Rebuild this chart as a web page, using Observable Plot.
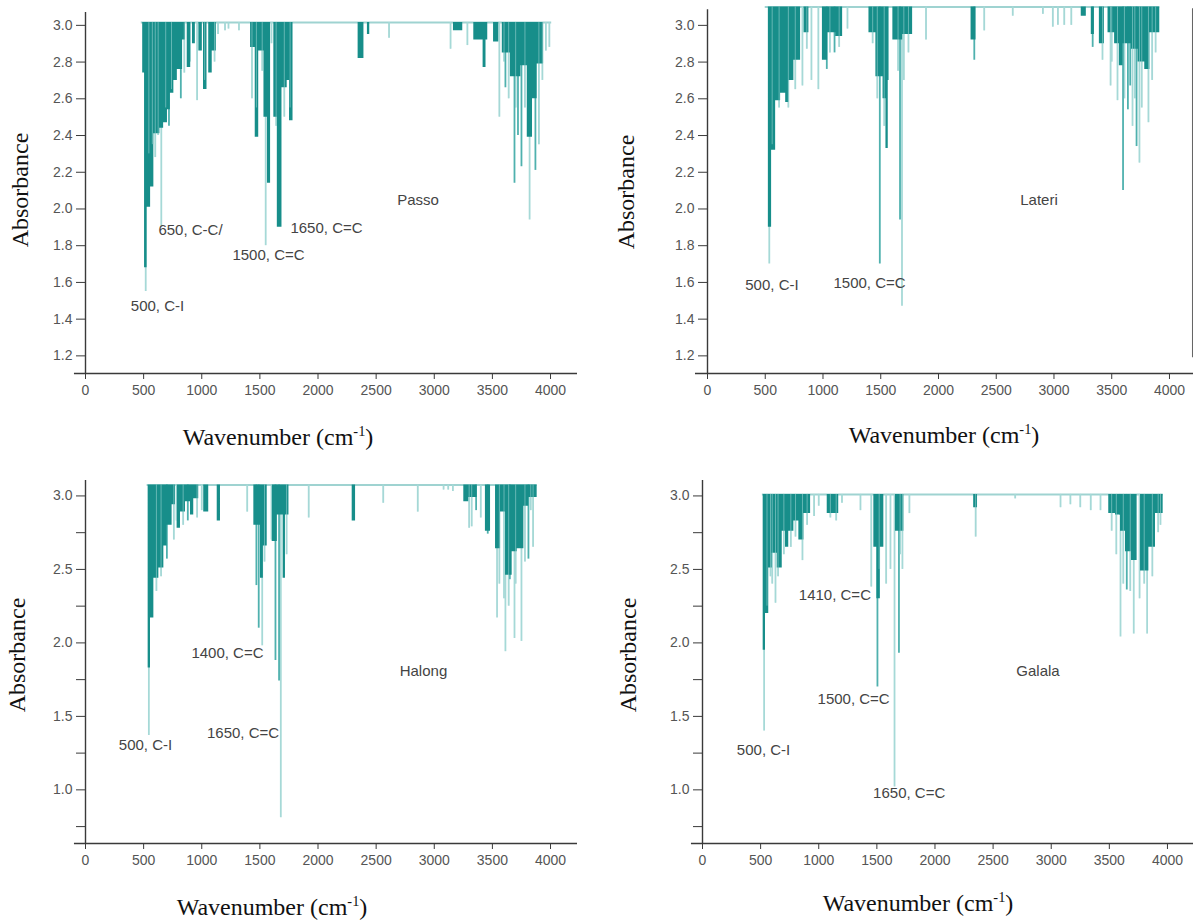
<!DOCTYPE html>
<html><head><meta charset="utf-8">
<script src="https://cdn.jsdelivr.net/npm/d3@7"></script>
<script src="https://cdn.jsdelivr.net/npm/@observablehq/plot@0.6"></script>
<style>
body{margin:0;background:#fff;}
#root{position:relative;width:1193px;height:921px;overflow:hidden;background:#fff;}
.panel{position:absolute;}
.ytitle{position:absolute;font-family:"Liberation Serif","Times New Roman",serif;font-size:24px;color:#111;white-space:nowrap;transform:translate(-50%,-50%) rotate(-90deg);}
.xtitle{position:absolute;font-family:"Liberation Serif","Times New Roman",serif;font-size:24px;color:#111;white-space:nowrap;transform:translate(-50%,-50%);}
.xtitle sup{font-size:0.6em;}
</style></head>
<body><div id="root"></div>
<script>
// ---------- shared tick labels ----------
const xTicks = [0, 500, 1000, 1500, 2000, 2500, 3000, 3500, 4000];
const yTicksTop = [1.2, 1.4, 1.6, 1.8, 2.0, 2.2, 2.4, 2.6, 2.8, 3.0];
const yTicksBottom = [1.0, 1.5, 2.0, 2.5, 3.0];
const yMinorBottom = [0.75, 1.25, 1.75, 2.25, 2.75];
const yTitle = "Absorbance";

// ---------- Passo ----------
const passoTop = 3.015;
const passoBandWn  = [480, 492, 508, 530, 560, 588, 640, 672, 705, 730, 760, 790, 835, 860, 875, 905, 920, 945, 975, 1005, 1015, 1045, 1060, 1090, 1125, 1420, 1460, 1490, 1535, 1565, 1592, 1620, 1650, 1690, 1735, 1755, 1785, 2345, 2395, 2425, 2445, 3165, 3245, 3340, 3420, 3445, 3460, 3510, 3555, 3585, 3655, 3745, 3800, 3845, 3885, 3940, 4010];
const passoBandAbs = [3.015, 2.74, 1.68, 2.01, 2.12, 2.41, 2.44, 2.47, 2.54, 2.63, 2.70, 2.76, 2.92, 3.015, 2.77, 3.015, 2.90, 3.015, 2.86, 3.015, 2.65, 3.015, 2.74, 2.86, 3.015, 2.88, 2.39, 2.86, 2.50, 2.14, 3.015, 2.50, 1.90, 2.66, 2.70, 2.48, 3.015, 2.82, 3.015, 2.95, 3.015, 2.97, 3.015, 2.92, 2.77, 2.92, 3.015, 2.91, 3.015, 2.85, 2.72, 2.78, 2.39, 2.60, 2.79, 3.015, 3.015];
const passoSpikeWn   = [518, 600, 652, 850, 960, 1200, 1230, 1320, 1432, 1550, 1600, 1710, 2611, 3140, 3285, 3560, 3820, 3960, 3990, 545, 575, 625, 690, 740, 1025, 1110, 1140, 1470, 1520, 1640, 1760, 3600, 3640, 3700, 3780, 3900, 3930, 718, 820, 895, 3612, 3690, 3720, 3750, 3870];
const passoSpikeAbs  = [1.55, 2.28, 1.90, 2.74, 2.59, 2.97, 2.98, 2.97, 2.60, 1.80, 2.90, 2.50, 2.93, 2.87, 2.89, 2.50, 1.94, 2.86, 2.88, 2.30, 2.35, 2.40, 2.55, 2.65, 2.70, 2.80, 2.95, 2.55, 2.75, 2.45, 2.55, 2.80, 2.60, 2.55, 2.55, 2.35, 2.70, 2.45, 2.60, 2.80, 2.66, 2.14, 2.40, 2.23, 2.21];
const passoSpikeTone = ["light","light","light","light","light","light","light","light","light","light","light","light","light","light","light","light","light","light","light","light","light","light","light","light","light","light","light","light","light","light","light","light","light","light","light","light","light","mid","mid","mid","mid","mid","mid","mid","mid"];
const passoNoteText = ["500, C-I", "650, C-C/", "1500, C=C", "1650, C=C", "Passo"];
const passoNoteWn   = [619, 903, 1574, 2073, 2860];
const passoNoteAbs  = [1.469, 1.883, 1.746, 1.894, 2.046];

// ---------- Lateri ----------
const lateriTop = 3.10;
const lateriBandWn  = [500, 527, 555, 590, 633, 677, 705, 748, 806, 836, 878, 995, 1040, 1110, 1170, 1398, 1458, 1520, 1545, 1565, 1572, 1605, 1690, 1776, 2282, 2325, 3236, 3280, 3323, 3350, 3393, 3436, 3468, 3525, 3566, 3598, 3670, 3728, 3786, 3830, 3916];
const lateriBandAbs = [3.10, 1.90, 2.32, 2.59, 2.63, 2.58, 2.70, 2.81, 3.10, 2.96, 3.10, 2.81, 2.96, 2.94, 3.10, 2.96, 2.72, 2.60, 2.33, 2.70, 3.10, 2.92, 2.95, 3.10, 2.92, 3.10, 3.05, 3.10, 2.95, 3.10, 2.90, 3.10, 2.96, 2.90, 2.78, 2.90, 2.87, 2.80, 2.76, 2.96, 3.10];
const lateriSpikeWn   = [535, 822, 860, 900, 960, 1212, 1430, 1650, 1684, 1892, 2396, 2643, 2904, 2990, 3034, 3089, 3150, 3420, 3490, 3550, 3740, 3818, 560, 620, 700, 760, 1060, 1140, 1470, 1530, 1700, 1740, 3500, 3610, 3680, 3700, 3760, 3850, 3880, 1033, 1100, 1492, 1667, 2310, 3335, 3598, 3640, 3660, 3715];
const lateriSpikeAbs  = [1.70, 2.67, 2.87, 2.70, 2.65, 2.98, 2.90, 2.75, 1.47, 2.92, 2.97, 3.05, 3.06, 2.99, 3.00, 3.00, 3.00, 2.81, 2.67, 2.59, 2.25, 2.47, 2.35, 2.55, 2.55, 2.65, 2.85, 2.88, 2.60, 2.45, 2.70, 2.85, 2.80, 2.60, 2.45, 2.60, 2.55, 2.70, 2.85, 2.76, 2.85, 1.70, 1.94, 2.81, 2.88, 2.10, 2.54, 2.67, 2.34];
const lateriSpikeTone = ["light","light","light","light","light","light","light","light","light","light","light","light","light","light","light","light","light","light","light","light","light","light","light","light","light","light","light","light","light","light","light","light","light","light","light","light","light","light","light","mid","mid","mid","mid","mid","mid","mid","mid","mid","mid"];
const lateriNoteText = ["500, C-I", "1500, C=C", "Lateri"];
const lateriNoteWn   = [558, 1403, 2870];
const lateriNoteAbs  = [1.583, 1.596, 2.046];

// ---------- Halong ----------
const halongTop = 3.075;
const halongBandWn  = [530, 539, 559, 588, 631, 674, 702, 745, 774, 788, 817, 860, 903, 931, 974, 1017, 1060, 1133, 1161, 1448, 1505, 1530, 1563, 1606, 1650, 1700, 1720, 1750, 2294, 2323, 3254, 3297, 3369, 3440, 3484, 3527, 3570, 3613, 3670, 3713, 3771, 3813, 3885];
const halongBandAbs = [3.075, 1.83, 2.17, 2.44, 2.51, 2.66, 2.80, 2.94, 3.075, 2.78, 2.89, 2.96, 2.87, 2.98, 3.075, 2.89, 3.075, 2.83, 3.075, 2.80, 2.44, 2.66, 3.075, 2.69, 2.87, 2.44, 2.87, 3.075, 2.83, 3.075, 2.96, 2.99, 3.075, 2.76, 3.075, 2.64, 2.89, 2.46, 2.62, 2.64, 2.93, 2.99, 3.075];
const halongSpikeWn   = [545, 783, 1391, 1520, 1680, 1920, 2561, 2858, 3080, 3120, 3160, 3300, 3322, 3540, 3612, 3690, 3750, 3830, 570, 610, 650, 760, 840, 960, 1000, 1540, 1600, 1730, 3560, 3600, 3640, 3700, 3780, 3850, 3400, 700, 880, 1470, 1490, 1634, 1665, 3360, 3460, 3650, 3810];
const halongSpikeAbs  = [1.37, 2.83, 2.89, 1.98, 0.81, 2.85, 2.95, 2.89, 3.04, 3.04, 3.03, 2.78, 2.79, 2.17, 1.94, 2.03, 2.01, 2.90, 2.20, 2.35, 2.45, 2.70, 2.80, 2.85, 2.90, 2.55, 2.70, 2.60, 2.40, 2.30, 2.25, 2.40, 2.55, 2.65, 2.85, 2.57, 2.83, 2.39, 2.10, 1.88, 1.74, 2.90, 2.74, 2.43, 2.57];
const halongSpikeTone = ["light","light","light","light","light","light","light","light","light","light","light","light","light","light","light","light","light","light","light","light","light","light","light","light","light","light","light","light","light","light","light","light","light","light","light","mid","mid","mid","mid","mid","mid","mid","mid","mid","mid"];
const halongNoteText = ["500, C-I", "1400, C=C", "1650, C=C", "Halong"];
const halongNoteWn   = [516, 1221, 1355, 2907];
const halongNoteAbs  = [1.302, 1.930, 1.386, 1.808];

// ---------- Galala ----------
const galalaTop = 3.01;
const galalaBandWn  = [515, 522, 542, 570, 600, 643, 686, 714, 742, 786, 829, 872, 930, 1073, 1172, 1474, 1500, 1530, 1560, 1660, 1732, 2333, 2366, 3495, 3553, 3596, 3639, 3690, 3739, 3768, 3840, 3897, 3963];
const galalaBandAbs = [3.01, 1.95, 2.20, 2.51, 2.61, 2.51, 2.76, 2.65, 2.76, 2.83, 2.70, 2.88, 3.01, 2.88, 3.01, 2.65, 2.30, 2.65, 3.01, 2.76, 3.01, 2.92, 3.01, 2.88, 2.87, 2.76, 2.62, 2.56, 3.01, 2.49, 2.65, 2.88, 3.01];
const galalaSpikeWn   = [530, 600, 628, 860, 960, 1000, 1150, 1200, 1359, 1452, 1580, 1617, 1652, 1780, 2350, 2690, 3080, 3165, 3250, 3340, 3424, 3520, 3596, 3710, 3825, 3920, 555, 585, 650, 700, 760, 800, 900, 1100, 1520, 1700, 1720, 3560, 3620, 3680, 3760, 3800, 3870, 3940, 1505, 1690, 3590, 3650];
const galalaSpikeAbs  = [1.40, 2.40, 2.27, 2.56, 2.86, 2.93, 2.83, 2.95, 2.90, 2.38, 2.40, 2.50, 1.02, 2.88, 2.72, 2.98, 2.92, 2.94, 2.92, 2.90, 2.90, 2.76, 2.04, 2.06, 2.06, 2.75, 2.25, 2.45, 2.45, 2.60, 2.65, 2.72, 2.80, 2.85, 2.50, 2.60, 2.50, 2.60, 2.40, 2.35, 2.30, 2.40, 2.45, 2.80, 1.70, 1.93, 2.87, 2.36];
const galalaSpikeTone = ["light","light","light","light","light","light","light","light","light","light","light","light","light","light","light","light","light","light","light","light","light","light","light","light","light","light","light","light","light","light","light","light","light","light","light","light","light","light","light","light","light","light","light","light","mid","mid","mid","mid"];
const galalaNoteText = ["500, C-I", "1410, C=C", "1500, C=C", "1650, C=C", "Galala"];
const galalaNoteWn   = [525, 1139, 1300, 1778, 2886];
const galalaNoteAbs  = [1.268, 2.323, 1.620, 0.974, 1.808];

// ---------- styling / layout (not data) ----------
const palette = {dark: "#178e8a", mid: "#4fb1ae", light: "#a6d9d7", base: "#9fd3d1", axis: "#3a3a3a", tick: "#555", note: "#444"};
const sans = "'Liberation Sans', Arial, Helvetica, sans-serif";

const layouts = [
  {left: 0,   top: 0,   w: 600, h: 460, ml: 85,  mr: 23, mt: 12,  mb: 87, xMax: 4232, xStart: -95,  yDomain: [1.104, 3.07],  axisTop: 3.07,  yTicks: yTicksTop, yMinor: null, frameRule: null,
   yt: [20, 190], xt: [278, 437]},
  {left: 600, top: 0,   w: 593, h: 460, ml: 107, mr: 0,  mt: 6.5, mb: 87, xMax: 4208, xStart: -104, yDomain: [1.104, 3.10],  axisTop: 3.085, yTicks: yTicksTop, yMinor: null, frameRule: {x: 4200, y1: 1.19, y2: 3.09},
   yt: [626, 192], xt: [944, 435]},
  {left: 0,   top: 460, w: 600, h: 461, ml: 85,  mr: 23, mt: 20,  mb: 78, xMax: 4232, xStart: -95,  yDomain: [0.635, 3.105], axisTop: 3.105, yTicks: yTicksBottom, yMinor: yMinorBottom, frameRule: null,
   yt: [17, 655], xt: [272, 907]},
  {left: 600, top: 460, w: 593, h: 461, ml: 102, mr: 0,  mt: 20,  mb: 78, xMax: 4224, xStart: -95,  yDomain: [0.635, 3.105], axisTop: 3.105, yTicks: yTicksBottom, yMinor: yMinorBottom, frameRule: null,
   yt: [628, 655], xt: [918, 903]}
];

const series = [
  {top: passoTop,  bandWn: passoBandWn,  bandAbs: passoBandAbs,  spikeWn: passoSpikeWn,  spikeAbs: passoSpikeAbs,  spikeTone: passoSpikeTone,  noteText: passoNoteText,  noteWn: passoNoteWn,  noteAbs: passoNoteAbs},
  {top: lateriTop, bandWn: lateriBandWn, bandAbs: lateriBandAbs, spikeWn: lateriSpikeWn, spikeAbs: lateriSpikeAbs, spikeTone: lateriSpikeTone, noteText: lateriNoteText, noteWn: lateriNoteWn, noteAbs: lateriNoteAbs},
  {top: halongTop, bandWn: halongBandWn, bandAbs: halongBandAbs, spikeWn: halongSpikeWn, spikeAbs: halongSpikeAbs, spikeTone: halongSpikeTone, noteText: halongNoteText, noteWn: halongNoteWn, noteAbs: halongNoteAbs},
  {top: galalaTop, bandWn: galalaBandWn, bandAbs: galalaBandAbs, spikeWn: galalaSpikeWn, spikeAbs: galalaSpikeAbs, spikeTone: galalaSpikeTone, noteText: galalaNoteText, noteWn: galalaNoteWn, noteAbs: galalaNoteAbs}
];

const root = document.getElementById("root");

series.forEach((s, k) => {
  const L = layouts[k];
  const band = s.bandWn.map((w, i) => ({wn: w, abs: s.bandAbs[i]}));
  const spikes = s.spikeWn.map((w, i) => ({wn: w, abs: s.spikeAbs[i], tone: s.spikeTone[i]}));
  const notes = s.noteText.map((t, i) => ({text: t, wn: s.noteWn[i], abs: s.noteAbs[i]}));
  const wnStart = d3.min(s.bandWn), wnEnd = d3.max(s.bandWn);
  const y0 = L.yDomain[0];

  const marks = [
    Plot.ruleY([s.top], {x1: wnStart, x2: wnEnd, stroke: palette.base, strokeWidth: 2}),
    Plot.ruleX(spikes.filter(d => d.tone === "light"), {x: "wn", y1: s.top, y2: "abs", stroke: palette.light, strokeWidth: 1.8}),
    Plot.ruleX(spikes.filter(d => d.tone === "mid"), {x: "wn", y1: s.top, y2: "abs", stroke: palette.mid, strokeWidth: 1.8}),
    Plot.areaY(band, {x: "wn", y1: s.top, y2: "abs", curve: "step-after", fill: palette.dark}),
    Plot.ruleX(spikes.filter(d => d.tone === "light" && d.abs > 2.2), {x: "wn", y1: s.top, y2: "abs", stroke: palette.light, strokeWidth: 1, strokeOpacity: 0.55}),
    Plot.ruleX([0], {y1: y0, y2: L.axisTop, stroke: palette.axis, strokeWidth: 1.4}),
    Plot.ruleY([y0], {x1: L.xStart, x2: L.xMax, stroke: palette.axis, strokeWidth: 1.4}),
    Plot.axisX({ticks: xTicks, tickFormat: d => String(d), tickSize: 6, tickPadding: 6, fontSize: 14, stroke: palette.axis, fill: palette.tick, label: null}),
    Plot.axisY({ticks: L.yTicks, tickFormat: d3.format(".1f"), tickSize: 9, tickPadding: 4, fontSize: 14, stroke: palette.axis, fill: palette.tick, label: null}),
    Plot.text(notes, {x: "wn", y: "abs", text: "text", fontSize: 15, fill: palette.note, fontFamily: sans})
  ];
  if (L.yMinor) marks.push(Plot.axisY({ticks: L.yMinor, tickFormat: () => "", tickSize: 9, stroke: palette.axis, label: null}));
  if (L.frameRule) marks.push(Plot.ruleX([L.frameRule.x], {y1: L.frameRule.y1, y2: L.frameRule.y2, stroke: "#666", strokeWidth: 1.2}));

  const svg = Plot.plot({
    width: L.w, height: L.h,
    marginLeft: L.ml, marginRight: L.mr, marginTop: L.mt, marginBottom: L.mb,
    x: {domain: [0, L.xMax], axis: null},
    y: {domain: L.yDomain, axis: null},
    style: {fontFamily: sans, background: "transparent", overflow: "visible", color: palette.tick},
    marks
  });
  svg.classList.add("panel");
  svg.style.left = L.left + "px";
  svg.style.top = L.top + "px";
  root.appendChild(svg);

  const yt = document.createElement("div");
  yt.className = "ytitle";
  yt.textContent = yTitle;
  yt.style.left = L.yt[0] + "px";
  yt.style.top = L.yt[1] + "px";
  root.appendChild(yt);

  const xt = document.createElement("div");
  xt.className = "xtitle";
  xt.innerHTML = "Wavenumber (cm<sup>-1</sup>)";
  xt.style.left = L.xt[0] + "px";
  xt.style.top = L.xt[1] + "px";
  root.appendChild(xt);
});
</script>
</body></html>
